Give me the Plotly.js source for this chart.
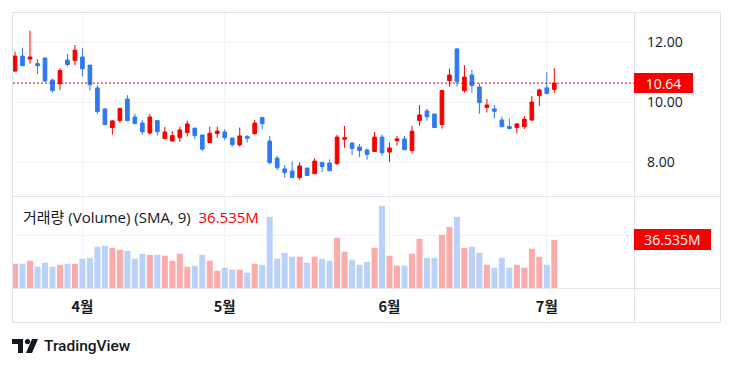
<!DOCTYPE html>
<html><head><meta charset="utf-8">
<script src="https://cdn.plot.ly/plotly-3.0.1.min.js"></script>
<style>
html,body{margin:0;padding:0;background:#fff;}
#wrap{position:relative;width:734px;height:367px;overflow:hidden;}
#chart{position:absolute;left:0;top:0;width:734px;height:367px;}
#brand{position:absolute;left:12px;top:337px;height:18px;display:flex;align-items:center;font-family:Roboto,'Noto Sans',sans-serif;font-weight:500;font-size:15.5px;color:#131722;}
</style></head>
<body><div id="wrap"><div id="chart"></div>
<div id="brand"><svg width="26" height="14" viewBox="0 0 26 14"><path d="M0 0H11V14H6V5H0Z" fill="#131722"/><circle cx="15.5" cy="2.6" r="2.6" fill="#131722"/><path d="M20 0H26L20 14H14Z" fill="#131722"/></svg><span style="margin-left:6px">TradingView</span></div></div>
<script>
// ---- data ----
const opens  = [11.04,11.54,11.44,11.29,11.48,10.74,10.62,11.41,11.39,11.51,
                11.24,10.48,9.78,9.16,9.39,10.11,9.51,9.31,8.98,9.39,
                8.79,8.71,8.82,8.99,9.14,8.91,8.66,8.96,9.01,8.81,
                8.58,8.86,8.96,9.49,8.71,8.14,7.78,7.71,7.49,7.81,
                7.62,8.00,7.98,7.96,8.77,8.64,8.51,8.41,8.36,8.84,
                8.34,8.72,8.78,8.39,9.39,9.71,9.61,9.26,10.72,11.78,
                10.39,10.91,10.51,9.83,9.78,9.41,9.19,9.16,9.19,9.41,
                10.22,10.48,10.43];
const highs  = [11.69,11.82,12.39,11.44,11.48,10.79,11.14,11.61,11.91,11.80,
                11.24,10.57,9.80,9.41,9.82,10.24,9.62,9.41,9.61,9.39,
                9.18,9.04,9.19,9.39,9.14,8.91,9.19,9.19,9.11,8.81,
                9.16,8.91,9.41,9.52,8.88,8.21,7.91,8.04,8.00,7.81,
                8.14,8.00,8.10,8.92,9.21,8.68,8.61,8.46,9.01,8.92,
                8.66,8.88,8.88,9.21,9.91,9.78,9.61,10.42,11.12,11.81,
                11.24,11.08,10.63,10.11,9.91,9.52,9.46,9.30,9.54,10.21,
                10.46,11.01,11.14];
const lows   = [11.02,11.22,11.29,10.94,10.67,10.32,10.41,11.19,11.23,10.86,
                10.39,9.61,9.23,8.92,9.32,9.36,9.29,8.92,8.92,8.89,
                8.77,8.68,8.68,8.86,8.78,8.38,8.66,8.82,8.74,8.52,
                8.52,8.66,8.92,9.10,7.93,7.74,7.49,7.49,7.42,7.56,
                7.62,7.68,7.72,7.91,8.48,8.24,8.17,8.09,8.36,8.22,
                8.01,8.56,8.42,8.29,9.22,9.39,9.16,9.12,10.52,10.52,
                10.32,10.32,9.62,9.66,9.46,9.17,9.12,8.96,9.11,9.38,
                9.88,10.29,10.32];
const closes = [11.54,11.22,11.51,11.22,10.71,10.39,11.06,11.26,11.74,11.12,
                10.59,9.69,9.26,9.38,9.79,9.39,9.29,9.02,9.51,9.02,
                9.01,8.89,9.08,9.28,8.89,8.44,8.97,9.04,8.82,8.59,
                8.88,8.80,9.31,9.29,7.99,7.82,7.66,7.49,7.88,7.56,
                8.04,7.86,7.72,8.84,8.82,8.46,8.39,8.26,8.84,8.32,
                8.48,8.78,8.42,9.04,9.58,9.52,9.16,10.39,10.91,10.69,
                10.84,10.56,9.99,9.91,9.70,9.19,9.12,9.28,9.44,10.01,
                10.41,10.29,10.64];
const volumesM = [18.4,18.4,20.7,16.1,19.2,16.1,17.6,18.4,18.4,22.2,
                  22.9,31.3,32.0,30.5,29.0,28.2,22.2,26.0,25.2,25.2,
                  24.5,20.7,26.0,16.1,16.9,25.2,20.7,13.1,15.4,13.9,
                  13.9,11.6,18.4,17.6,54.0,22.2,26.7,23.7,23.7,19.2,
                  23.7,22.2,20.7,38.1,27.5,21.4,17.6,19.9,30.5,62.3,
                  24.5,16.9,16.9,26.0,37.3,22.9,22.9,40.3,46.4,54.0,
                  30.5,31.3,26.7,17.6,15.4,22.9,15.4,17.6,15.4,29.8,
                  23.7,17.6,36.535];
const monthTickIdx  = [9, 28, 50, 71];
const monthTickText = ['4월', '5월', '6월', '7월'];
const priceTicks = [8, 10, 12];
const volumeGridTicks = [40];
const volumeTitle = '거래량 (Volume) (SMA, 9)';

// ---- styling ----
const UP = '#f70000', DOWN = '#2f79f1';
const UP_VOL = '#faabab', DOWN_VOL = '#bad1f9';
const GRID = '#f0f3fa', FRAME = '#e0e3eb', TXT = '#131722';
const FONT = "'Open Sans', 'Noto Sans CJK KR', sans-serif";

const idx = closes.map((_, i) => i);
const volColors = closes.map((c, i) => c >= opens[i] ? UP_VOL : DOWN_VOL);
const lastClose = closes[closes.length - 1];
const lastVol = volumesM[volumesM.length - 1];

// pixel -> paper helpers (plot area: x 13..634, y 13..288)
const L = 13, R = 634, T = 13, B = 288;
const px = x => (x - L) / (R - L);
const py = y => (B - y) / (B - T);
const priceDomTop = py(196);

const traces = [
  {type: 'candlestick', x: idx, open: opens, high: highs, low: lows, close: closes,
   xaxis: 'x', yaxis: 'y',
   increasing: {line: {color: UP, width: 1}, fillcolor: UP},
   decreasing: {line: {color: DOWN, width: 1}, fillcolor: DOWN},
   whiskerwidth: 0, hoverinfo: 'skip'},
  {type: 'bar', x: idx, y: volumesM, xaxis: 'x', yaxis: 'y2',
   marker: {color: volColors, line: {width: 0}}, hoverinfo: 'skip'}
];

const lineShape = (x0, y0, x1, y1, color, dash) => ({type: 'line', xref: 'paper', yref: 'paper',
  x0: x0, y0: y0, x1: x1, y1: y1, line: {color: color, width: 1, dash: dash || 'solid'}, layer: 'above'});

const layout = {
  width: 734, height: 367,
  margin: {l: L, r: 734 - R, t: T, b: 367 - B, pad: 0},
  paper_bgcolor: '#ffffff', plot_bgcolor: '#ffffff',
  showlegend: false, hovermode: false, bargap: 0.2, boxgap: 0.3,
  font: {family: FONT, color: TXT, size: 14},
  xaxis: {anchor: 'y2', range: [-0.27, 82.64], tickmode: 'array', tickvals: monthTickIdx, ticktext: monthTickText,
          showgrid: true, gridcolor: GRID, gridwidth: 1, zeroline: false, showline: false, ticks: '',
          ticklabelstandoff: 8, tickfont: {family: "'Noto Sans CJK KR', sans-serif", size: 14.5, color: TXT, weight: 700},
          rangeslider: {visible: false}, fixedrange: true},
  yaxis: {domain: [priceDomTop, 1], range: [6.877, 12.977], side: 'right', tickmode: 'array', tickvals: priceTicks,
          tickformat: '.2f', showgrid: true, gridcolor: GRID, zeroline: false, showline: false, ticks: '',
          ticklabelstandoff: 12, tickfont: {family: FONT, size: 14, color: TXT}, fixedrange: true},
  yaxis2: {domain: [0, priceDomTop], range: [0, 69.8], side: 'right', tickmode: 'array', tickvals: volumeGridTicks,
           showticklabels: false, showgrid: true, gridcolor: GRID, zeroline: false, showline: false, ticks: '',
           fixedrange: true},
  shapes: [
    {type: 'line', xref: 'paper', yref: 'y', x0: 0, x1: 1, y0: lastClose, y1: lastClose,
     line: {color: UP, width: 1, dash: '2px,2px'}, layer: 'above'},
    {type: 'rect', xref: 'paper', yref: 'paper', x0: px(12.5), x1: px(720.5), y0: py(322.5), y1: py(12.5),
     line: {color: FRAME, width: 1}, fillcolor: 'rgba(0,0,0,0)', layer: 'above'},
    lineShape(px(12.5), py(196.5), px(720.5), py(196.5), FRAME),
    lineShape(px(12.5), py(288.5), px(720.5), py(288.5), FRAME),
    lineShape(px(634.5), py(12.5), px(634.5), py(322.5), FRAME)
  ],
  annotations: [
    {xref: 'paper', yref: 'paper', x: px(21), y: py(216.5), xanchor: 'left', yanchor: 'middle', showarrow: false,
     text: volumeTitle + '  <span style="color:' + UP + '">' + lastVol.toFixed(3) + 'M</span>',
     font: {family: FONT, size: 15, color: TXT}},
    {xref: 'paper', yref: 'y', x: 1, y: lastClose, xanchor: 'left', yanchor: 'middle', showarrow: false,
     text: lastClose.toFixed(2), width: 59, height: 20, bgcolor: UP, borderpad: 0, borderwidth: 0,
     font: {family: FONT, size: 14, color: '#ffffff'}},
    {xref: 'paper', yref: 'y2', x: 1, y: lastVol, xanchor: 'left', yanchor: 'middle', showarrow: false,
     text: lastVol.toFixed(3) + 'M', width: 77, height: 21, bgcolor: UP, borderpad: 0, borderwidth: 0,
     font: {family: FONT, size: 14, color: '#ffffff'}}
  ]
};

Plotly.newPlot('chart', traces, layout, {staticPlot: true, displayModeBar: false});
</script>
</body></html>
